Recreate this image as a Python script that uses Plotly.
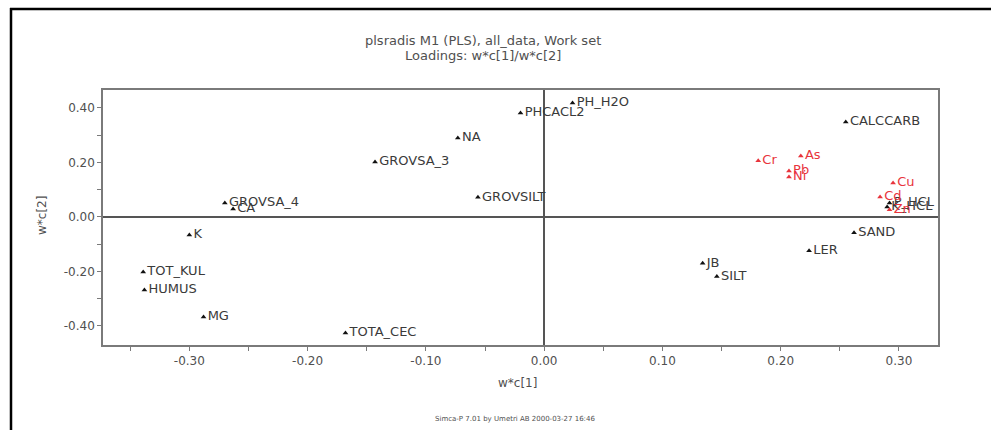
import plotly.graph_objects as go

# PLS loadings w*c[1] / w*c[2] — soil variables (black) and metals (red)
soil_names = ["PH_H2O", "PHCACL2", "NA", "GROVSA_3", "GROVSILT", "GROVSA_4", "CA",
              "K", "TOT_KUL", "HUMUS", "MG", "TOTA_CEC", "CALCCARB", "SAND", "LER",
              "JB", "SILT", "P_HCL", "K_HCL"]
soil_wc1 = [0.024, -0.020, -0.073, -0.143, -0.056, -0.270, -0.263,
            -0.300, -0.339, -0.338, -0.288, -0.168, 0.255, 0.262, 0.224,
            0.134, 0.146, 0.292, 0.290]
soil_wc2 = [0.418, 0.382, 0.290, 0.202, 0.072, 0.051, 0.029,
            -0.066, -0.202, -0.268, -0.367, -0.426, 0.349, -0.058, -0.124,
            -0.170, -0.219, 0.051, 0.037]

metal_names = ["Cr", "As", "Pb", "Ni", "Cu", "Cd", "Zn"]
metal_wc1 = [0.181, 0.217, 0.207, 0.207, 0.295, 0.284, 0.292]
metal_wc2 = [0.206, 0.224, 0.169, 0.147, 0.125, 0.073, 0.026]

x_ticks = [-0.30, -0.20, -0.10, 0.00, 0.10, 0.20, 0.30]
y_ticks = [-0.40, -0.20, 0.00, 0.20, 0.40]

W, H = 991, 430
L, R, T, B = 103, 938, 90, 345  # plot area in pixels


def px(x):
    return (x - L) / (R - L)


def py(y):
    return (B - y) / (B - T)


def fmt(v):
    # plain ASCII hyphen for negatives
    return f"{v:.2f}"


FONT = "DejaVu Sans"
TXT = "#3a3a3a"
RED = "#e8343c"

fig = go.Figure()
fig.add_trace(go.Scatter(
    x=soil_wc1, y=soil_wc2, text=soil_names, mode="markers+text",
    textposition="middle right",
    marker=dict(symbol="triangle-up", size=5, color="#111111"),
    textfont=dict(family=FONT, size=13, color=TXT),
    cliponaxis=False, showlegend=False, hoverinfo="text"))
fig.add_trace(go.Scatter(
    x=metal_wc1, y=metal_wc2, text=metal_names, mode="markers+text",
    textposition="middle right",
    marker=dict(symbol="triangle-up", size=5, color=RED),
    textfont=dict(family=FONT, size=13, color=RED),
    cliponaxis=False, showlegend=False, hoverinfo="text"))

axis_common = dict(
    showgrid=False, showline=True, mirror=True, linecolor="#7a7a7a", linewidth=1.5,
    zeroline=True, zerolinecolor="#555555", zerolinewidth=1.5,
    ticks="outside", ticklen=4, tickcolor="#7a7a7a", tickwidth=1,
    tickfont=dict(family=FONT, size=12, color="#505050"),
)

fig.update_xaxes(range=[-0.373, 0.333], tickvals=x_ticks,
                 ticktext=[fmt(v) for v in x_ticks],
                 minor=dict(dtick=0.05, ticks="outside", ticklen=4, tickcolor="#7a7a7a"),
                 **axis_common)
fig.update_yaxes(range=[-0.470, 0.466], tickvals=y_ticks,
                 ticktext=[fmt(v) for v in y_ticks],
                 minor=dict(dtick=0.1, ticks="outside", ticklen=4, tickcolor="#7a7a7a"),
                 **axis_common)

annotations = [
    dict(text="plsradis M1 (PLS), all_data, Work set", x=px(483), y=py(40),
         font=dict(family=FONT, size=13, color="#505050")),
    dict(text="Loadings: w*c[1]/w*c[2]", x=px(483), y=py(55),
         font=dict(family=FONT, size=13, color="#505050")),
    dict(text="w*c[1]", x=px(517), y=py(383),
         font=dict(family=FONT, size=12, color="#505050")),
    dict(text="w*c[2]", x=px(42), y=py(216), textangle=-90,
         font=dict(family=FONT, size=12, color="#505050")),
    dict(text="Simca-P 7.01 by Umetri AB 2000-03-27 16:46", x=px(515), y=py(419),
         font=dict(family=FONT, size=7, color="#505050")),
]
for a in annotations:
    a.update(xref="paper", yref="paper", showarrow=False, xanchor="center", yanchor="middle")

# outer window frame (top and left edges)
shapes = [
    dict(type="line", xref="paper", yref="paper", x0=px(10), x1=px(991), y0=py(9), y1=py(9),
         line=dict(color="#000000", width=2.5)),
    dict(type="line", xref="paper", yref="paper", x0=px(11), x1=px(11), y0=py(8), y1=py(430),
         line=dict(color="#000000", width=2.5)),
]

fig.update_layout(
    width=W, height=H,
    margin=dict(l=L, r=W - R, t=T, b=H - B),
    paper_bgcolor="white", plot_bgcolor="white",
    annotations=annotations, shapes=shapes,
)

fig.write_html("out.html")
